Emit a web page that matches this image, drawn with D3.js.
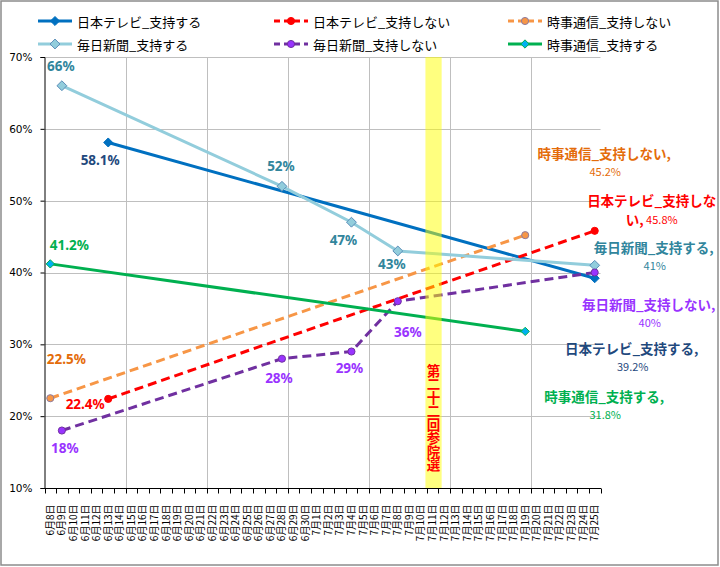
<!DOCTYPE html>
<html><head><meta charset="utf-8">
<script src="https://cdn.jsdelivr.net/npm/d3@7"></script>
<style>
html,body{margin:0;padding:0;background:#fff;}
svg{display:block;}
</style></head>
<body>
<svg id="chart" width="720" height="567"></svg>
<script>
// ---------- DATA ----------
const dates = ["6月8日","6月9日","6月10日","6月11日","6月12日","6月13日","6月14日","6月15日","6月16日","6月17日",
"6月18日","6月19日","6月20日","6月21日","6月22日","6月23日","6月24日","6月25日","6月26日","6月27日",
"6月28日","6月29日","6月30日","7月1日","7月2日","7月3日","7月4日","7月5日","7月6日","7月7日",
"7月8日","7月9日","7月10日","7月11日","7月12日","7月13日","7月14日","7月15日","7月16日","7月17日",
"7月18日","7月19日","7月20日","7月21日","7月22日","7月23日","7月24日","7月25日"];
const yTicks = [10,20,30,40,50,60,70];
const gridDates = ["6月15日","6月22日","6月29日","7月6日","7月13日","7月20日"];

const ntvSupportDates = ["6月13日","7月25日"];
const ntvSupportValues = [58.1, 39.2];
const ntvOpposeDates = ["6月13日","7月25日"];
const ntvOpposeValues = [22.4, 45.8];
const jijiOpposeDates = ["6月8日","7月19日"];
const jijiOpposeValues = [22.5, 45.2];
const mainichiSupportDates = ["6月9日","6月28日","7月4日","7月8日","7月25日"];
const mainichiSupportValues = [66, 52, 47, 43, 41];
const mainichiOpposeDates = ["6月9日","6月28日","7月4日","7月8日","7月25日"];
const mainichiOpposeValues = [18, 28, 29, 36, 40];
const jijiSupportDates = ["6月8日","7月19日"];
const jijiSupportValues = [41.2, 31.8];

const seriesNames = ["日本テレビ_支持する","日本テレビ_支持しない","時事通信_支持しない","毎日新聞_支持する","毎日新聞_支持しない","時事通信_支持する"];
const electionDate = "7月11日";
const electionLabel = "第二十二回参院選";

// ---------- STYLES ----------
const styles = [
  {line:"#0070C0", dash:null, marker:"diamond", fill:"#0070C0", stroke:"#0070C0", msize:52, label:"#1F497D"},
  {line:"#FF0000", dash:"9,5", marker:"circle", fill:"#FF0000", stroke:"#FF0000", msize:40, label:"#FF0000"},
  {line:"#F79646", dash:"9,5", marker:"circle", fill:"#F79646", stroke:"#8C7BA0", msize:40, label:"#E46C0A"},
  {line:"#92CDDC", dash:null, marker:"diamond", fill:"#92CDDC", stroke:"#5B8DB8", msize:62, label:"#31859C"},
  {line:"#7030A0", dash:"9,5", marker:"circle", fill:"#9933FF", stroke:"#7030A0", msize:40, label:"#9933FF"},
  {line:"#00B050", dash:null, marker:"diamond", fill:"#00B0F0", stroke:"#00B050", msize:44, label:"#00B050"}
];
const seriesData = [
  [ntvSupportDates, ntvSupportValues],
  [ntvOpposeDates, ntvOpposeValues],
  [jijiOpposeDates, jijiOpposeValues],
  [mainichiSupportDates, mainichiSupportValues],
  [mainichiOpposeDates, mainichiOpposeValues],
  [jijiSupportDates, jijiSupportValues]
].map(([ds, vs]) => ds.map((d,i)=>({date:d, value:vs[i]})));

// point label offsets [series, pointIndex, dx, dy]
const pointLabels = [
  [3,0,-1,-20],[0,0,-8,18],[3,1,-1,-20],[3,2,-8,18],[3,3,-6,13],
  [5,0,19,-19],[2,0,16,-39],[1,0,-23,5],[4,0,3,17],[4,1,-3,19],[4,2,-2,16],[4,3,10,31]
];
// end labels: series, dx, dy of first line (relative to last point)
const endLabels = [
  {s:2, dx:79, dy:-82},
  {s:1, dx:57, dy:-31},
  {s:3, dx:59, dy:-18},
  {s:4, dx:54, dy:31},
  {s:0, dx:37, dy:70},
  {s:5, dx:79, dy:65}
];

// ---------- CHART ----------
const svg = d3.select("#chart");
const JP = "'Noto Sans CJK JP','Noto Sans',sans-serif";
const plotLeft = 44.5, plotRight = 600.5, plotTop = 57, plotBottom = 488;

svg.append("rect").attr("x",1).attr("y",1).attr("width",717).attr("height",564)
  .attr("fill","#fff").attr("stroke","#8c8c8c").attr("stroke-width",1.5);

const x = d3.scaleBand().domain(dates).range([plotLeft, plotRight]).padding(0);
const bw = x.bandwidth();
const cx = d => x(d) + bw/2;
const y = d3.scaleLinear().domain([10,70]).range([plotBottom, plotTop]);

// horizontal grid
svg.append("g").selectAll("line").data(yTicks).join("line")
  .attr("x1",plotLeft).attr("x2",plotRight)
  .attr("y1",d=>Math.round(y(d))+0.5).attr("y2",d=>Math.round(y(d))+0.5)
  .attr("stroke","#BFBFBF").attr("stroke-width",1);
// vertical grid
svg.append("g").selectAll("line").data(gridDates).join("line")
  .attr("x1",d=>Math.round(x(d))+0.5).attr("x2",d=>Math.round(x(d))+0.5)
  .attr("y1",plotTop).attr("y2",plotBottom)
  .attr("stroke","#BFBFBF").attr("stroke-width",1);

// y axis
const yAxis = svg.append("g").attr("transform",`translate(${plotLeft},0)`)
  .call(d3.axisLeft(y).tickValues(yTicks).tickSize(4).tickPadding(8).tickFormat(d=>d+"%"));
yAxis.select(".domain").attr("stroke","#000");
yAxis.selectAll(".tick line").attr("stroke","#000");
yAxis.selectAll("text").attr("font-family","'DejaVu Sans',sans-serif").attr("font-size",10.5).attr("fill","#000");

// x axis
const xg = svg.append("g").attr("transform",`translate(0,${plotBottom+0.5})`);
xg.append("line").attr("x1",plotLeft).attr("x2",plotRight+0.5).attr("stroke","#000");
const bounds = dates.map(d=>x(d)).concat([plotRight]);
xg.selectAll("line.t").data(bounds).join("line").attr("class","t")
  .attr("x1",d=>Math.round(d)+0.5).attr("x2",d=>Math.round(d)+0.5).attr("y1",0).attr("y2",5)
  .attr("stroke","#000");
xg.selectAll("text").data(dates).join("text")
  .attr("transform",d=>`translate(${cx(d)+3.5},16) rotate(-90)`)
  .attr("text-anchor","end")
  .attr("font-family",JP).attr("font-size",10).attr("fill","#000")
  .text(d=>d);

// lines
const lineGen = d3.line().x(d=>cx(d.date)).y(d=>y(d.value));
const markerPath = (st) => d3.symbol().type(st.marker==="diamond"?d3.symbolDiamond2:d3.symbolCircle).size(st.msize)();
seriesData.forEach((data,i)=>{
  const st = styles[i];
  svg.append("path").datum(data).attr("d",lineGen)
    .attr("fill","none").attr("stroke",st.line).attr("stroke-width",3)
    .attr("stroke-dasharray",st.dash).attr("stroke-linecap",st.dash?"butt":"round");
});
seriesData.forEach((data,i)=>{
  const st = styles[i];
  svg.append("g").selectAll("path").data(data).join("path")
    .attr("d",markerPath(st))
    .attr("transform",d=>`translate(${cx(d.date)},${y(d.value)})`)
    .attr("fill",st.fill).attr("stroke",st.stroke).attr("stroke-width",1);
});

// election band (semi-transparent, over lines)
svg.append("rect")
  .attr("x",cx(electionDate)-bw*0.7+1).attr("width",bw*1.4)
  .attr("y",y(70)).attr("height",y(10)-y(70))
  .attr("fill","#FFFF00").attr("fill-opacity",0.5);
svg.append("text")
  .attr("x",cx(electionDate)+1).attr("y",364)
  .attr("style","writing-mode: vertical-rl; text-orientation: upright;")
  .attr("font-family",JP).attr("font-size",13.5).attr("font-weight","bold").attr("fill","#FF0000")
  .text(electionLabel);

// point labels
pointLabels.forEach(([s,pi,dx,dy])=>{
  const d = seriesData[s][pi];
  svg.append("text")
    .attr("x",cx(d.date)+dx).attr("y",y(d.value)+dy)
    .attr("text-anchor","middle").attr("dominant-baseline","central")
    .attr("font-family","'Noto Sans',sans-serif").attr("font-weight","bold").attr("font-size",13.5)
    .attr("fill",styles[s].label).text(d.value+"%");
});

// end labels
endLabels.forEach(({s,dx,dy})=>{
  const data = seriesData[s];
  const d = data[data.length-1];
  const px = cx(d.date)+dx, py = y(d.value)+dy;
  const col = styles[s].label;
  const name = seriesNames[s];
  const t = svg.append("g").attr("font-family",JP).attr("fill",col).attr("text-anchor","middle");
  if (s===1) {
    t.append("text").attr("x",px).attr("y",py).attr("dominant-baseline","central")
      .attr("font-size",13.5).attr("font-weight","bold").text(name.slice(0,name.length-1));
    const t2 = t.append("text").attr("x",px).attr("y",py+19).attr("dominant-baseline","central");
    t2.append("tspan").attr("font-size",13.5).attr("font-weight","bold").text(name.slice(-1)+",");
    t2.append("tspan").attr("font-size",11).text(" "+d.value+"%");
  } else {
    t.append("text").attr("x",px).attr("y",py).attr("dominant-baseline","central")
      .attr("font-size",13.5).attr("font-weight","bold").text(name+",");
    t.append("text").attr("x",px+1).attr("y",py+18).attr("dominant-baseline","central")
      .attr("font-size",11).text(d.value+"%");
  }
});

// legend
const legendPos = [[38,21],[274,21],[508,21],[38,44],[274,44],[508,44]];
seriesNames.forEach((name,i)=>{
  const st = styles[i];
  const [lx,ly] = legendPos[i];
  const g = svg.append("g").attr("transform",`translate(${lx},${ly})`);
  g.append("line").attr("x1",0).attr("x2",34).attr("y1",0).attr("y2",0)
    .attr("stroke",st.line).attr("stroke-width",3).attr("stroke-dasharray",st.dash?"6,4":null);
  g.append("path").attr("d",markerPath(st)).attr("transform","translate(17,0)")
    .attr("fill",st.fill).attr("stroke",st.stroke);
  g.append("text").attr("x",39).attr("y",0).attr("dominant-baseline","central")
    .attr("font-family",JP).attr("font-size",13).attr("fill","#000").text(name);
});
</script>
</body></html>
